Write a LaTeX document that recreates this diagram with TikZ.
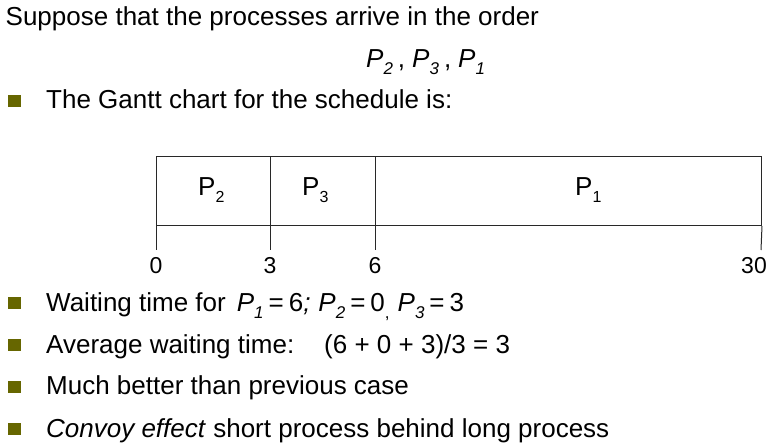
\documentclass[tikz,border=0pt]{standalone}
\usepackage{fontspec}
\setmainfont{Liberation Sans}
\definecolor{olivebullet}{RGB}{102,102,0}
\definecolor{chartline}{RGB}{40,40,40}
\newcommand\lowsub[2][17]{\raisebox{-0.28em}{\fontsize{#1}{#1}\selectfont #2}}
\begin{document}
\begin{tikzpicture}[x=1pt,y=-1pt,
  txt/.style={anchor=base west,inner sep=0pt,font=\fontsize{26}{30}\selectfont},
  sq/.style={fill=olivebullet,draw=none,minimum width=13pt,minimum height=12pt,inner sep=0pt},
  cell/.style={draw=chartline,line width=1pt,anchor=north west,minimum height=69pt,inner sep=0pt},
  tick/.style={draw=chartline,line width=1pt},
  plabel/.style={anchor=base west,inner sep=0pt,font=\fontsize{26}{30}\selectfont},
  num/.style={anchor=base,inner sep=0pt,font=\fontsize{23}{28}\selectfont}]
\useasboundingbox (0,0) rectangle (772,447);

\node[txt] (t1) at (5.5,25) {Suppose that the processes arrive in the order};
\node[txt] (t2) at (366,67) {\textit{P}\lowsub{\textit{2}}\hspace{5pt},\hspace{7pt}\textit{P}\lowsub{\textit{3}}\hspace{5pt},\hspace{7pt}\textit{P}\lowsub{\textit{1}}};

\node[sq] (b0) at (14,100.5) {};
\node[txt] (t3) at (46,108) {The Gantt chart for the schedule is:};

% Gantt chart
\node[cell,minimum width=114pt] (c2) at (156,156) {};
\node[cell,minimum width=105pt] (c3) at (270,156) {};
\node[cell,minimum width=386pt] (c1) at (375,156) {};
\node[plabel] (p2) at (198,195) {P\lowsub[16]{2}};
\node[plabel] (p3) at (302,195) {P\lowsub[16]{3}};
\node[plabel] (p1) at (575,195) {P\lowsub[16]{1}};
\coordinate (k0) at (156,250);
\coordinate (k3) at (270,250);
\coordinate (k6) at (375,250);
\coordinate (k30) at (761,250);
\draw[tick] (c2.south west) -- (k0);
\draw[tick] (c3.south west) -- (k3);
\draw[tick] (c1.south west) -- (k6);
\draw[tick] (c1.south east) -- (k30);
\node[num] (n0) at (156,273) {0};
\node[num] (n3) at (270,273) {3};
\node[num] (n6) at (375,273) {6};
\node[num] (n30) at (754,273) {30};

\node[sq] (b1) at (14,303) {};
\node[txt] (t4) at (46,311) {Waiting time for\hspace{11pt}\textit{P}\lowsub{\textit{1}}\hspace{5pt}=\hspace{5pt}6\textit{;}\hspace{8pt}\textit{P}\lowsub{\textit{2}}\hspace{5pt}=\hspace{5pt}0\lowsub{,}\hspace{8pt}\textit{P}\lowsub{\textit{3}}\hspace{5pt}=\hspace{5pt}3};
\node[sq] (b2) at (14,345) {};
\node[txt] (t5) at (46,353) {Average waiting time:\hspace{30pt}(6 + 0 + 3)/3 = 3};
\node[sq] (b3) at (14,387) {};
\node[txt] (t6) at (46,394) {Much better than previous case};
\node[sq] (b4) at (14,429) {};
\node[txt] (t7) at (46,437) {\textit{Convoy effect} short process behind long process};
\end{tikzpicture}
\end{document}
